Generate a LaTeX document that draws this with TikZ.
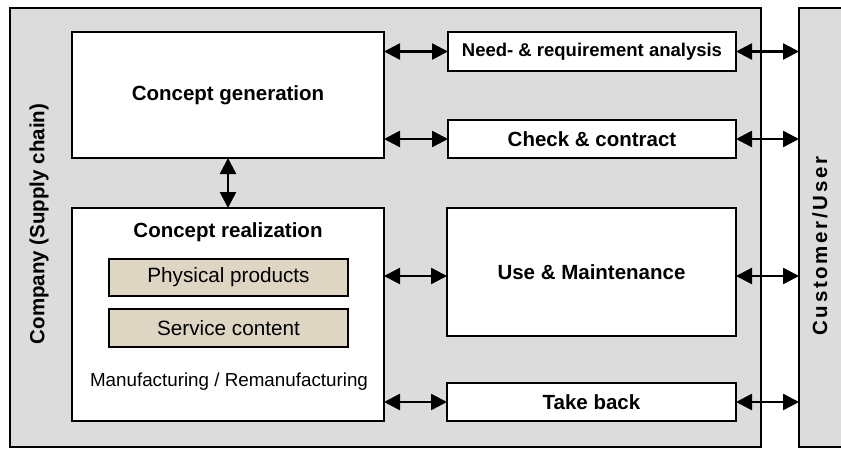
\documentclass[tikz,border=0pt]{standalone}
\usepackage{fontspec}
\setmainfont{Liberation Sans}
\newfontfamily\wideface[LetterSpace=13]{Liberation Sans}
\usetikzlibrary{arrows.meta,calc}
\definecolor{panelgray}{HTML}{DCDCDC}
\definecolor{tan}{HTML}{DED5C3}
\tikzset{
  panel/.style={draw=black, line width=1.2pt, fill=panelgray, inner sep=0pt, outer sep=0pt},
  wbox/.style={draw=black, line width=1.2pt, fill=white, inner sep=0pt, outer sep=0pt},
  tbox/.style={draw=black, line width=1.2pt, fill=tan, inner sep=0pt, outer sep=0pt},
  arr/.style={line width=2.5pt, {Triangle[length=16pt,width=16pt]}-{Triangle[length=16pt,width=16pt]}},
  bigbold/.style={font=\fontsize{20.5}{23}\selectfont\bfseries},
  midbold/.style={font=\fontsize{18.5}{21}\selectfont\bfseries},
  reg/.style={font=\fontsize{20.7}{23}\selectfont},
  smallreg/.style={font=\fontsize{18.8}{21}\selectfont}
}
\begin{document}
\begin{tikzpicture}[x=1pt,y=-1pt]
\clip (0,0) rectangle (841,448);
\useasboundingbox (0,0) rectangle (841,448);
% outer panels
\node[panel, minimum width=751pt, minimum height=439pt] (comp) at (385.5,227.5) {};
\node[panel, minimum width=51pt, minimum height=439pt] (cust) at (824.5,227.5) {};
% boxes
\node[wbox, minimum width=312pt, minimum height=126pt, bigbold] (cg) at (228,95) {Concept generation};
\node[wbox, minimum width=288pt, minimum height=39pt, midbold] (need) at (592,51.5) {Need- \& requirement analysis};
\node[wbox, minimum width=288pt, minimum height=38pt, bigbold] (check) at (592,139) {Check \& contract};
\node[wbox, minimum width=312pt, minimum height=213pt] (cr) at (228,314.5) {};
\node[tbox, minimum width=239pt, minimum height=37pt, reg] (pp) at (228.5,277.5) {Physical products};
\node[tbox, minimum width=239pt, minimum height=38pt, reg] (sc) at (228.5,328) {Service content};
\node[wbox, minimum width=289pt, minimum height=128pt, bigbold] (use) at (591.5,272) {Use \& Maintenance};
\node[wbox, minimum width=289pt, minimum height=38pt, bigbold] (tb) at (591.5,402) {Take back};
% labels inside concept realization
\node[bigbold, anchor=center] (crt) at ([yshift=-24pt]cr.north) {Concept realization};
\node[smallreg, anchor=center] (mfg) at ([xshift=1pt,yshift=39pt]cr.south) {Manufacturing / Remanufacturing};
% side labels
\node[bigbold, rotate=90] (complab) at (39,224) {Company (Supply chain)};
\node[font=\fontsize{20.5}{23}\wideface\bfseries, rotate=90] (custlab) at (820,246) {Customer/User};
% connectors
\draw[arr] (cg.east |- need.west) -- (need.west);
\draw[arr] (need.east) -- (cust.west |- need.east);
\draw[arr] (cg.east |- check.west) -- (check.west);
\draw[arr] (check.east) -- (cust.west |- check.east);
\draw[arr] (cg.south) -- (cr.north);
\draw[arr] ([yshift=-4pt]use.west -| cr.east) -- ([yshift=-4pt]use.west);
\draw[arr] ([yshift=-4pt]use.east) -- ([yshift=-4pt]use.east -| cust.west);
\draw[arr] (cr.east |- tb.west) -- (tb.west);
\draw[arr] (tb.east) -- (cust.west |- tb.east);
\end{tikzpicture}
\end{document}
